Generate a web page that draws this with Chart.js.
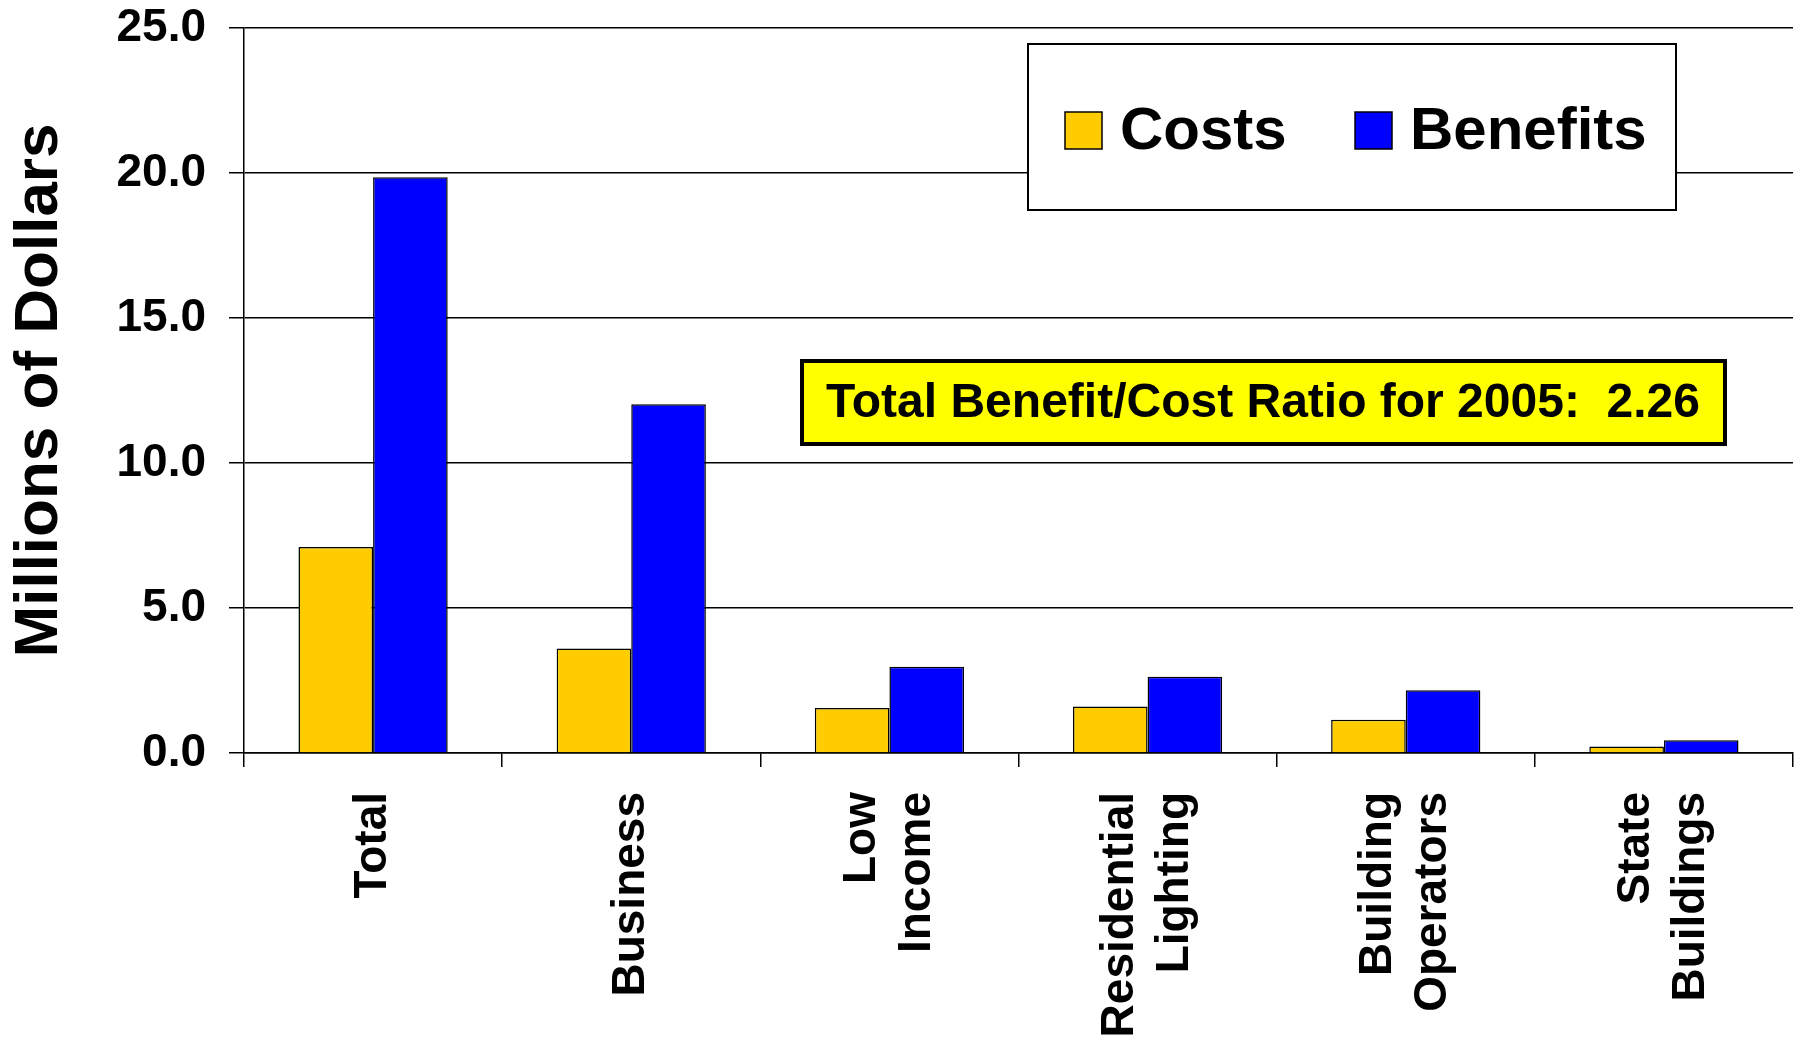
<!DOCTYPE html>
<html>
<head>
<meta charset="utf-8">
<title>Costs and Benefits</title>
<script src="https://cdn.jsdelivr.net/npm/chart.js@4.4.1/dist/chart.umd.min.js"></script>
<style>
  html, body { margin: 0; padding: 0; background: #fff; }
  #wrap { width: 1799px; height: 1044px; }
</style>
</head>
<body>
<div id="wrap"><canvas id="chart"></canvas></div>
<script>
// data (millions of dollars)
const categories = [["Total"], ["Business"], ["Low", "Income"], ["Residential", "Lighting"], ["Building", "Operators"], ["State", "Buildings"]];
const costs = [7.1, 3.6, 1.55, 1.6, 1.15, 0.22];
const benefits = [19.85, 12.03, 2.97, 2.63, 2.16, 0.44];
const yTicks = [0, 5, 10, 15, 20, 25];
const seriesNames = ["Costs", "Benefits"];
const seriesColors = ["#FFCC00", "#0000FF"];
const ratioText = "Total Benefit/Cost Ratio for 2005:  2.26";

const FONT = "'Liberation Sans', Arial, sans-serif";

// two-line labels: center the block on the tick instead of the first line
const centerLabels = {
  id: "centerLabels",
  beforeDraw(chart) {
    const items = chart.scales.x.getLabelItems();
    items.forEach(it => {
      if (it._centered) return;
      const n = Array.isArray(it.label) ? it.label.length : 1;
      if (n > 1) it.options.translation[0] -= (n - 1) * it.font.lineHeight / 2;
      it._centered = true;
    });
  }
};

// legend in a framed box, drawn from the datasets
const boxLegend = {
  id: "boxLegend",
  afterDraw(chart) {
    const ctx = chart.ctx;
    ctx.save();
    ctx.fillStyle = "#fff";
    ctx.strokeStyle = "#000";
    ctx.lineWidth = 2;
    ctx.fillRect(1028, 44, 648, 166);
    ctx.strokeRect(1028, 44, 648, 166);
    const xs = [1065, 1355];
    chart.data.datasets.forEach((ds, i) => {
      ctx.fillStyle = ds.backgroundColor;
      ctx.fillRect(xs[i], 112, 37, 37);
      ctx.lineWidth = 1.5;
      ctx.strokeRect(xs[i], 112, 37, 37);
      ctx.fillStyle = "#000";
      ctx.font = "bold 60px " + FONT;
      ctx.textBaseline = "middle";
      ctx.textAlign = "left";
      ctx.fillText(ds.label, xs[i] + 55, 132);
    });
    ctx.restore();
  }
};

// yellow note with the ratio
const ratioNote = {
  id: "ratioNote",
  afterDraw(chart) {
    const ctx = chart.ctx;
    ctx.save();
    ctx.fillStyle = "#FFFF00";
    ctx.fillRect(802, 361, 923, 83);
    ctx.strokeStyle = "#000";
    ctx.lineWidth = 4;
    ctx.strokeRect(802, 361, 923, 83);
    ctx.fillStyle = "#000";
    ctx.font = "bold 48px " + FONT;
    ctx.textAlign = "center";
    ctx.textBaseline = "middle";
    ctx.fillText(ratioText, 1263, 404);
    ctx.restore();
  }
};

const ctx = document.getElementById("chart").getContext("2d");
new Chart(ctx, {
  type: "bar",
  data: {
    labels: categories,
    datasets: [
      { label: seriesNames[0], data: costs, backgroundColor: seriesColors[0], borderColor: "#000", borderWidth: 1.5 },
      { label: seriesNames[1], data: benefits, backgroundColor: seriesColors[1], borderColor: "#000", borderWidth: 1.5 }
    ]
  },
  options: {
    responsive: true,
    maintainAspectRatio: false,
    devicePixelRatio: 1,
    animation: false,
    layout: { padding: { top: 28, right: 6, left: 0, bottom: 0 } },
    datasets: { bar: { categoryPercentage: 0.578, barPercentage: 1 } },
    plugins: {
      legend: { display: false },
      tooltip: { enabled: false }
    },
    scales: {
      x: {
        afterFit: s => { s.height = 291; s.paddingLeft = 0; s.paddingRight = 0; },
        border: { color: "#000", width: 1.5 },
        grid: { drawOnChartArea: false, drawTicks: true, tickLength: 14, color: "#000", lineWidth: 1.5 },
        ticks: {
          color: "#000",
          font: { family: FONT, size: 46, weight: "bold" },
          minRotation: 90,
          maxRotation: 90,
          padding: 25,
          autoSkip: false
        }
      },
      y: {
        min: 0,
        max: 25,
        afterFit: s => { s.width = 244; s.paddingTop = 0; s.paddingBottom = 0; },
        afterBuildTicks: s => { s.ticks = yTicks.map(v => ({ value: v })); },
        border: { color: "#000", width: 1.5 },
        grid: { color: "#000", lineWidth: 1.5, tickLength: 15 },
        ticks: {
          color: "#000",
          font: { family: FONT, size: 46, weight: "bold" },
          padding: 23,
          callback: v => Number(v).toFixed(1)
        },
        title: {
          display: true,
          text: "Millions of Dollars",
          color: "#000",
          font: { family: FONT, size: 62, weight: "bold" },
          padding: { top: 3, bottom: 0 }
        }
      }
    }
  },
  plugins: [centerLabels, boxLegend, ratioNote]
});
</script>
</body>
</html>
